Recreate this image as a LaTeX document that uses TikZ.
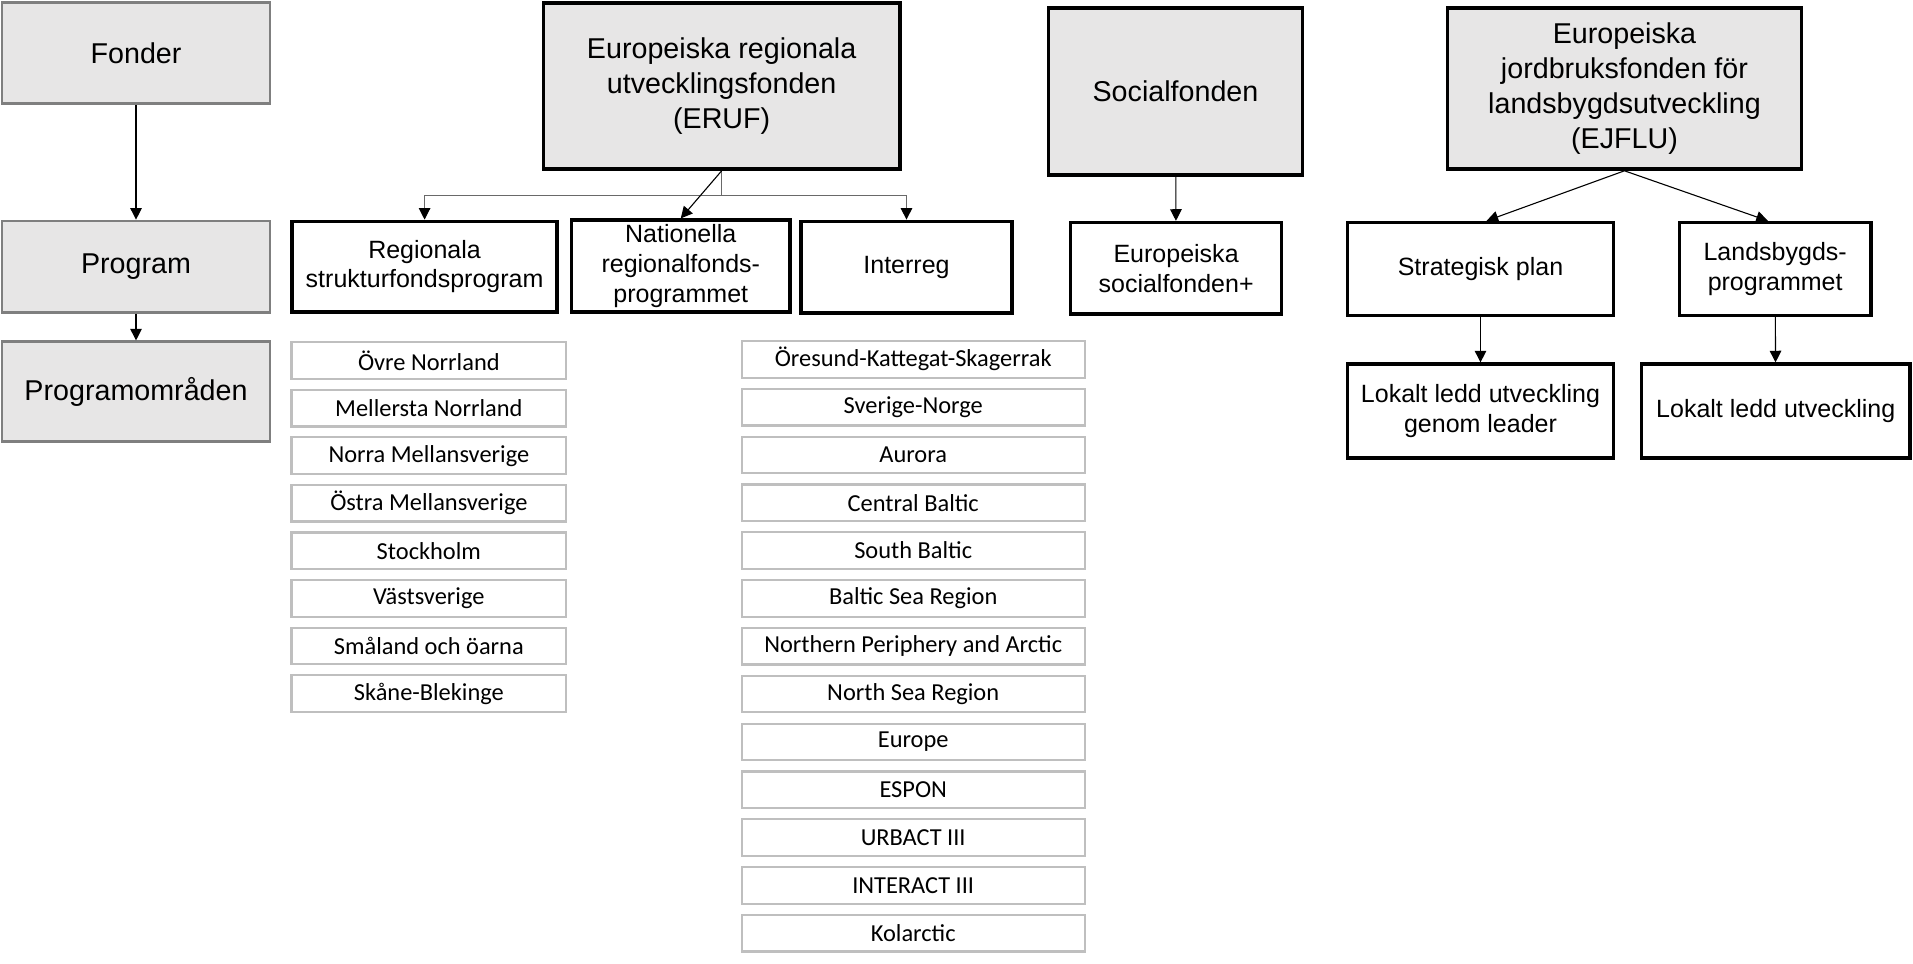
\documentclass[tikz,border=0pt]{standalone}
\usepackage{fontspec}
\setmainfont{Liberation Sans}
\newfontfamily\listfont{Carlito}
\usetikzlibrary{arrows.meta}
\definecolor{fundgray}{RGB}{231,230,230}
\definecolor{levelgray}{RGB}{127,127,127}
\definecolor{listgray}{RGB}{191,191,191}
\definecolor{linkgray}{RGB}{105,105,105}

\begin{document}
\begin{tikzpicture}[x=1pt,y=-1pt,
    levelbox/.style={draw=levelgray, line width=2pt, fill=fundgray, inner sep=0pt, minimum width=220pt, align=center, font=\fontsize{23.5}{28.5}\selectfont},
    fundbox/.style={draw=black, line width=3pt, fill=fundgray, inner sep=0pt, align=center, font=\fontsize{23.5}{28.5}\selectfont},
    progbox/.style={draw=black, line width=3pt, fill=white, inner sep=0pt, align=center, font=\fontsize{20.5}{24.5}\selectfont},
    areabox/.style={draw=listgray, line width=1.8pt, inner sep=0pt, minimum height=30pt, font=\listfont\fontsize{20}{24}\selectfont},
    arr/.style={-{Triangle[width=9.5pt,length=9.5pt]}, line width=0.9pt},
    elbow/.style={-{Triangle[width=9.5pt,length=9.5pt,color=black]}, line width=0.9pt, draw=linkgray}]

    \useasboundingbox (0,0) rectangle (1568,790);

    % 左侧层级
    \node[levelbox, minimum height=83pt] (fonder) at (111.5,43.5) {Fonder};
    \node[levelbox, minimum height=75pt] (program) at (111.5,218.5) {Program};
    \node[levelbox, minimum height=82pt] (omraden) at (111.5,321) {Programområden};

    % 基金
    \node[fundbox, minimum width=292pt, minimum height=136pt] (eruf) at (591.5,70.5) {Europeiska regionala\\utvecklingsfonden\\(ERUF)};
    \node[fundbox, minimum width=208pt, minimum height=137pt] (social) at (963.5,75) {Socialfonden};
    \node[fundbox, minimum width=290pt, minimum height=132pt] (ejflu) at (1331.5,72.5) {Europeiska\\jordbruksfonden för\\landsbygdsutveckling\\(EJFLU)};

    % 程序
    \node[progbox, minimum width=217pt, minimum height=74pt] (regional) at (348,218.5) {Regionala\\strukturfondsprogram};
    \node[progbox, minimum width=179pt, minimum height=75pt] (national) at (558,218) {Nationella\\regionalfonds-\\programmet};
    \node[progbox, minimum width=173pt, minimum height=75pt] (interreg) at (743,219) {Interreg};
    \node[progbox, minimum width=173pt, minimum height=75pt] (esf) at (964,220) {Europeiska\\socialfonden+};
    \node[progbox, minimum width=218pt, minimum height=76pt] (strategi) at (1213.5,220.5) {Strategisk plan};
    \node[progbox, minimum width=157pt, minimum height=76pt] (landsbygd) at (1455,220.5) {Landsbygds-\\programmet};
    \node[progbox, minimum width=218pt, minimum height=77pt] (leader) at (1213.5,337) {Lokalt ledd utveckling\\genom leader};
    \node[progbox, minimum width=220pt, minimum height=77pt] (lokalt) at (1455.5,337) {Lokalt ledd utveckling};

    % 程序区域
    \foreach \name [count=\i from 0] in {Övre Norrland, Mellersta Norrland, Norra Mellansverige, Östra Mellansverige, Stockholm, Västsverige, Småland och öarna, Skåne-Blekinge}
        \node[areabox, minimum width=225pt] (omr\i) at (351.5,295.5+39*\i) {\name};
    \foreach \name [count=\i from 0] in {Öresund-Kattegat-Skagerrak, Sverige-Norge, Aurora, Central Baltic, South Baltic, Baltic Sea Region, Northern Periphery and Arctic, North Sea Region, Europe, ESPON, URBACT III, INTERACT III, Kolarctic}
        \node[areabox, minimum width=281pt] (irg\i) at (748.5,294.5+39.2*\i) {\name};

    % 箭头
    \draw[arr] (fonder) -- (program);
    \draw[arr] (program) -- (omraden);
    \draw[elbow] (eruf.south) -- ++(0,20) -| (regional.north);
    \draw[elbow] (eruf.south) -- ++(0,20) -| (interreg.north);
    \draw[arr] (eruf.south) -- (national.north);
    \draw[arr] (social) -- (esf);
    \draw[arr] (ejflu.south) -- ([xshift=5pt]strategi.north);
    \draw[arr] (ejflu.south) -- ([xshift=-6pt]landsbygd.north);
    \draw[arr] (strategi) -- (leader);
    \draw[arr] (landsbygd) -- (lokalt);
\end{tikzpicture}
\end{document}
